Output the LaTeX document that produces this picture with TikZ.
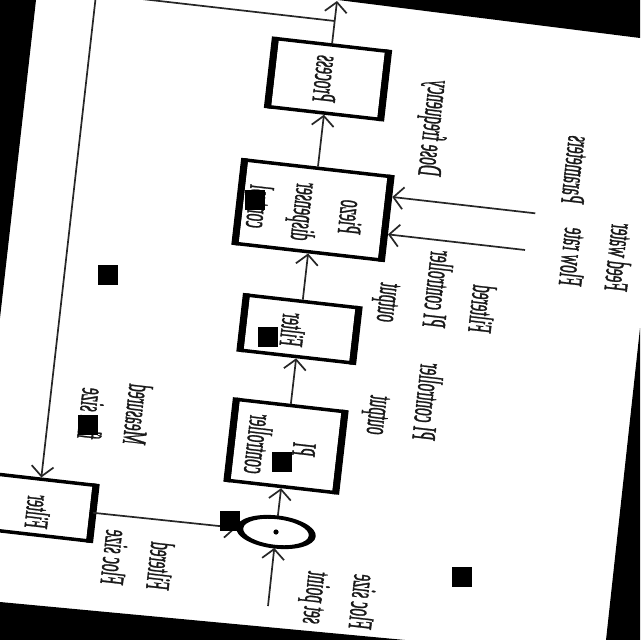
\documentclass[tikz,border=0pt]{standalone}
\usepackage{fontspec}
\setmainfont{Liberation Serif}
\newfontfamily\lblfont{Liberation Serif}[FakeBold=1.5]
\usetikzlibrary{arrows.meta,calc,shapes.geometric}
\begin{document}
\begin{tikzpicture}[x=0.5pt,y=0.5pt,
  box/.style={draw, line width=1.75pt, rectangle, rotate=-6.5, inner sep=0pt},
  txt/.style={font=\lblfont\fontsize{17}{23}\selectfont, inner sep=0pt, rotate=83.5, yscale=-1, xscale=0.45, text=black!90},
  lbl/.style={txt, align=left},
  arr/.style={-{Straight Barb[length=5pt,width=11pt,line width=0.85pt]}, line width=0.85pt, draw=black!85},
  occl/.style={fill=black}]
\useasboundingbox (0,0) rectangle (640,-640);
\clip (0,0) rectangle (640,-640);
\fill[white] (0,0) rectangle (640,-640);
% blocks
\node[box, minimum width=55.25pt, minimum height=34.25pt] (proc) at (328,-79) {};
\node[box, minimum width=72pt, minimum height=42pt] (piezo) at (313,-210) {};
\node[box, minimum width=55pt, minimum height=27.75pt] (filt) at (299.5,-329) {};
\node[box, minimum width=53pt, minimum height=40.75pt] (pi) at (286,-446) {};
\node[box, minimum width=53.5pt, minimum height=28pt] (fbf) at (38,-507) {};
\node[ellipse, minimum width=40pt, minimum height=16pt, inner sep=0pt, outer sep=0pt, rotate=-6.5] (sum) at (276,-532) {};
\foreach \n in {proc,piezo,filt,pi,fbf}{
  \draw[line width=3.5pt] (\n.north west) -- (\n.south west) (\n.north east) -- (\n.south east);
}
\fill[even odd rule, rotate around={-6.5:(sum.center)}] (sum.center) ellipse [x radius=20pt, y radius=8.3pt] (sum.center) ellipse [x radius=16.5pt, y radius=6.4pt];
\fill (sum.center) circle[radius=1.3pt];
% block texts
\node[txt] (tproc) at (326,-79) {Process};
\node[txt, align=center] (tpiezo) at (305,-212) {Piezo\\dispenser\\control};
\node[txt] (tfilt) at (293,-330) {Filter};
\node[txt, align=center] (tpi) at (281,-447) {PI\\controller};
\node[txt] (tfbf) at (38,-512) {Filter};
% coordinates
\coordinate (in) at (268,-606);
\coordinate (out) at (337,-1);
\coordinate (br) at (334.6,-21);
\coordinate (corner) at (96.1,6.2);
\coordinate (p1) at ($(piezo.north east)!0.25!(piezo.south east)+(3.5,-0.4)$);
\coordinate (p2) at ($(piezo.north east)!0.68!(piezo.south east)+(3.5,-0.4)$);
\coordinate (s1) at ($(p1)+(143,-16.3)$);
\coordinate (s2) at ($(p2)+(137,-15.6)$);
% connectors
\draw[arr] (in) -- (sum);
\draw[arr] (sum) -- (pi);
\draw[arr] (pi) -- (filt);
\draw[arr] (filt) -- (piezo);
\draw[arr] (piezo) -- (proc);
\draw[arr] (proc) -- (out);
\draw[arr] (br) -- (corner) -- (fbf);
\draw[arr] (fbf) -- (sum);
\draw[arr] (s1) -- (p1);
\draw[arr] (s2) -- (p2);
% labels
\node[lbl] (lfilt) at (138,-560) {Filtered\\Floc size};
\node[lbl] (lset) at (337,-599) {Floc size\\set point};
\node[lbl] (lmeas) at (115,-412) {Measured\\floc size};
\node[lbl] (lpiout) at (402,-399) {PI controller\\output};
\node[lbl] (lfpiout) at (435,-289) {Filtered\\PI controller\\output};
\node[lbl] (ldose) at (432,-128) {Dose frequency};
\node[lbl] (lparam) at (576,-170) {Parameters};
\node[lbl] (lfeed) at (597,-255) {Feed water\\Flow rate};
% occluding squares
\fill[occl] (245,-190) rectangle (265,-210);
\fill[occl] (98,-265) rectangle (118,-285);
\fill[occl] (258,-327) rectangle (278,-347);
\fill[occl] (78,-415) rectangle (98,-435);
\fill[occl] (272,-452) rectangle (292,-472);
\fill[occl] (220,-511) rectangle (240,-531);
\fill[occl] (452,-567) rectangle (472,-587);
% dark surround
\fill (0,0) -- (36,0) -- (0,-318) -- cycle;
\fill (338,0) -- (640,0) -- (640,-38) -- cycle;
\fill (640,-328) -- (640,-640) -- (606,-640) -- cycle;
\fill (0,-602) -- (405,-640) -- (0,-640) -- cycle;
\end{tikzpicture}
\end{document}
